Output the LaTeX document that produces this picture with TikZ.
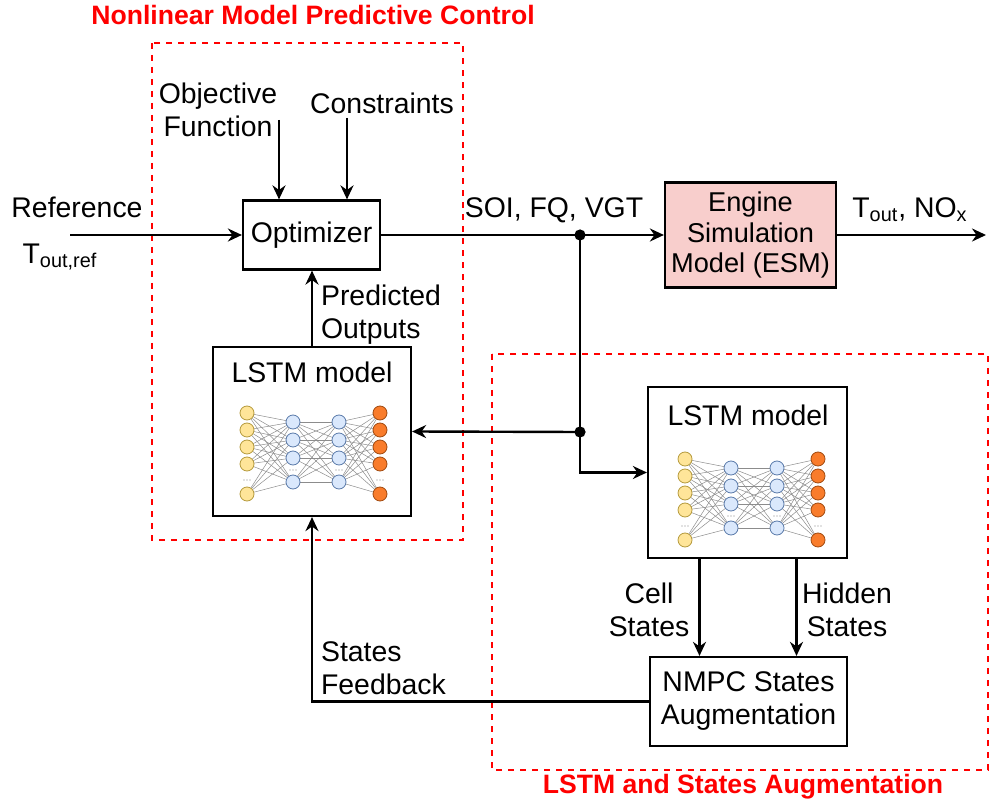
\documentclass[tikz,border=0pt]{standalone}
\usepackage{fontspec}
\setmainfont{Liberation Sans}
\usetikzlibrary{arrows.meta,positioning,calc}

\definecolor{esmfill}{HTML}{F8CECC}
\definecolor{inneur}{HTML}{FFE599}
\definecolor{inneurd}{HTML}{B59A3C}
\definecolor{hidneur}{HTML}{DAE8FC}
\definecolor{hidneurd}{HTML}{5A7AAA}
\definecolor{outneur}{HTML}{F97C2B}
\definecolor{outneurd}{HTML}{A04A10}
\definecolor{regred}{HTML}{FF0000}

\begin{document}
\begin{tikzpicture}[
    x=0.5pt, y=-0.5pt,
    every node/.style={font=\fontsize{14.2}{16.5}\selectfont},
    box/.style={draw, line width=1.1pt, inner sep=0pt, align=center},
    arrow/.style={-{Stealth[length=7pt,width=6.5pt]}, line width=1.2pt},
    region/.style={draw=regred, dashed, dash pattern=on 3pt off 3pt, line width=0.9pt},
    regtitle/.style={text=regred, font=\fontsize{13.3}{16}\selectfont\bfseries},
    netedge/.style={draw=black!45, line width=0.25pt},
    pics/lstmnet/.style={code={
        \foreach \a in {0,17,34,51,81} \foreach \b in {9,27,45,69}
            \draw[netedge] (-66,\a) -- (-20,\b);
        \foreach \a in {9,27,45,69} \foreach \b in {9,27,45,69}
            \draw[netedge] (-20,\a) -- (26,\b);
        \foreach \a in {9,27,45,69} \foreach \b in {0,17,34,51,81}
            \draw[netedge] (26,\a) -- (67,\b);
        \foreach \y in {0,17,34,51,81} {
            \draw[draw=inneurd, fill=inneur, line width=0.4pt] (-66,\y) circle (3.5pt);
            \draw[draw=outneurd, fill=outneur, line width=0.4pt] (67,\y) circle (3.5pt);
        }
        \foreach \y in {9,27,45,69} {
            \draw[draw=hidneurd, fill=hidneur, line width=0.4pt] (-20,\y) circle (3.5pt);
            \draw[draw=hidneurd, fill=hidneur, line width=0.4pt] (26,\y) circle (3.5pt);
        }
        \foreach \x/\y in {-66/67, -20/57, 26/57, 67/67}
            \foreach \d in {-3,0,3}
                \fill[black!50] (\x+\d,\y) circle (0.35pt);
    }}
]
    \useasboundingbox (0,0) rectangle (990,807);

    % dashed regions
    \draw[region] (152,43) rectangle (463,540);
    \draw[region] (492,354) rectangle (988,770);
    \node[regtitle] (nmpctitle) at (313,15) {Nonlinear Model Predictive Control};
    \node[regtitle] (lstmtitle) at (743,787) {LSTM and States Augmentation};

    % blocks
    \node[box, minimum width=68.5pt, minimum height=34.5pt] (opt) at (311.5,235) {Optimizer};
    \node[box, fill=esmfill, minimum width=85.5pt, minimum height=52.5pt,
          font=\fontsize{13.6}{15.3}\selectfont] (esm) at (750.5,235) {Engine\\Simulation\\Model (ESM)};
    \node[box, minimum width=99pt, minimum height=84.5pt] (lstmA) at (312,431.5) {};
    \node (lstmAt) at (312,372) {LSTM model};
    \pic at (313,413) {lstmnet};
    \node[box, minimum width=99.5pt, minimum height=85.5pt] (lstmB) at (747.5,472.5) {};
    \node (lstmBt) at (748,415) {LSTM model};
    \pic at (751,459) {lstmnet};
    \node[box, minimum width=98.5pt, minimum height=44.5pt] (aug) at (748.5,701.5) {NMPC States\\Augmentation};

    % labels
    \node[align=center] (objlbl) at (218,110) {Objective\\Function};
    \node (conlbl) at (382,103) {Constraints};
    \node (reflbl) at (77,207) {Reference};
    \node (refsym) at (60,257) {T\textsubscript{out,ref}};
    \node (ctrllbl) at (554,210) {SOI, FQ, VGT};
    \node (outlbl) at (910,210) {T\textsubscript{out}, NO\textsubscript{x}};
    \node[align=left, anchor=west] (predlbl) at (314,315) {Predicted\\Outputs};
    \node[align=center] (celllbl) at (649,610) {Cell\\States};
    \node[align=center] (hidlbl) at (847,610) {Hidden\\States};
    \node[align=left, anchor=west] (fblbl) at (314,668) {States\\Feedback};

    % connectors
    \coordinate (objin) at (279,120);
    \coordinate (conin) at (347,118);
    \coordinate (refin) at (70,235);
    \coordinate (j1) at (580,235);
    \coordinate (j2) at (580,432);
    \coordinate (out) at (986,235);

    \draw[arrow] (objin) -- (objin |- opt.north);
    \draw[arrow] (conin) -- (conin |- opt.north);
    \draw[arrow] (refin) -- (opt.west);
    \draw[arrow] (opt.east) -- (esm.west);
    \draw[arrow] (esm.east) -- (out);
    \draw[arrow] (j1) |- (lstmB.west);
    \draw[arrow] (j2) -- (lstmA.east);
    \draw[arrow] (lstmA.north) -- (lstmA.north |- opt.south);
    \draw[arrow] ([xshift=-24pt]lstmB.south) -- ([xshift=-24pt]lstmB.south |- aug.north);
    \draw[arrow] ([xshift=24.5pt]lstmB.south) -- ([xshift=24.5pt]lstmB.south |- aug.north);
    \draw[arrow] (aug.west) -| (lstmA.south);
    \fill (j1) circle (2.8pt);
    \fill (j2) circle (2.8pt);
\end{tikzpicture}
\end{document}
